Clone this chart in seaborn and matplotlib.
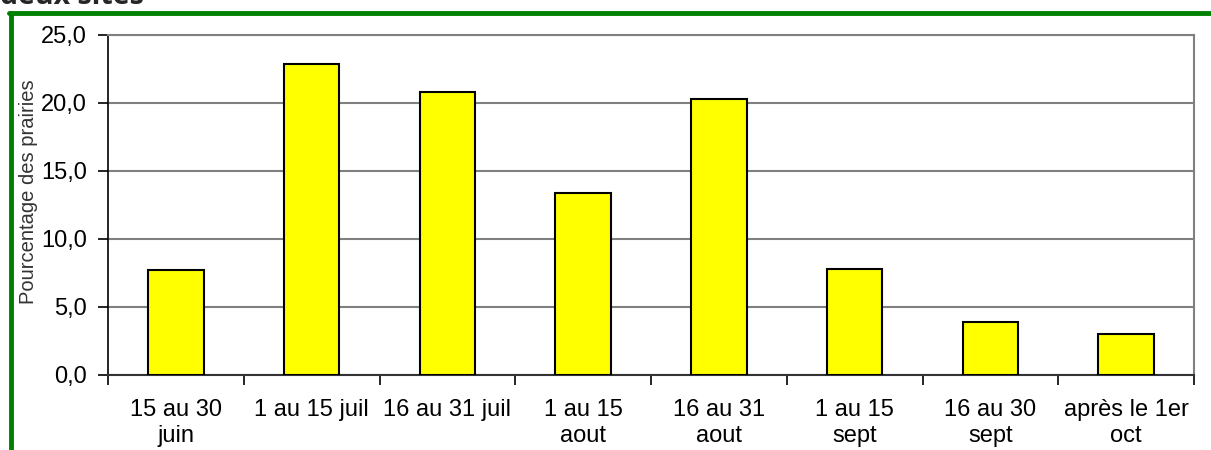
import matplotlib
matplotlib.use("Agg")
import matplotlib.pyplot as plt
from matplotlib.lines import Line2D
import seaborn as sns
import numpy as np

sns.set_style("white")
plt.rcParams['font.family'] = ['Liberation Sans', 'DejaVu Sans']

periods = ["15 au 30\njuin", "1 au 15 juil", "16 au 31 juil", "1 au 15\naout",
           "16 au 31\naout", "1 au 15\nsept", "16 au 30\nsept", "après le 1er\noct"]
pct = [7.7, 22.9, 20.8, 13.4, 20.3, 7.8, 3.9, 3.0]
yticks = [0, 5, 10, 15, 20, 25]

fig = plt.figure(figsize=(12.11, 4.5), dpi=100)
ax = fig.add_axes([108 / 1211, 75 / 450, (1194 - 108) / 1211, 340 / 450])

sns.barplot(x=periods, y=pct, color="#FFFF00", saturation=1, width=0.41,
            edgecolor="black", linewidth=1.5, ax=ax, zorder=3)

ax.set_xlim(-0.5, len(periods) - 0.5)
ax.set_ylim(0, 25)
ax.set_yticks(yticks)
ax.set_yticklabels([f"{v:.1f}".replace(".", ",") for v in yticks], fontsize=17)
ax.yaxis.grid(True, color="#808080", linewidth=1.5, zorder=0)
ax.set_axisbelow(True)

# category ticks sit on the boundaries, labels in the middle
ax.set_xticks(np.arange(len(periods)))
ax.set_xticklabels(periods, fontsize=17, linespacing=1.25)
ax.set_xticks(np.arange(len(periods) + 1) - 0.5, minor=True)
ax.tick_params(axis="x", which="major", length=0, pad=17, labelcolor="black")
ax.tick_params(axis="x", which="minor", length=7, width=1.2, color="black", bottom=True)
ax.tick_params(axis="y", length=7, width=1.2, color="black", left=True, pad=8, labelcolor="black")

ax.set_xlabel("")
ax.set_ylabel("Pourcentage des prairies", fontsize=14.5, color="#333333")
ax.yaxis.set_label_coords(-0.0645, 0.54)

for side in ["top", "right"]:
    ax.spines[side].set_color("#808080")
    ax.spines[side].set_linewidth(1.5)
ax.spines["left"].set_color("black")
ax.spines["left"].set_linewidth(1.2)
ax.spines["bottom"].set_color("#333333")
ax.spines["bottom"].set_linewidth(1.5)

# green frame and cut-off title
fig.add_artist(Line2D([9 / 1211, 1], [1 - 13 / 450, 1 - 13 / 450], color="#008000", linewidth=3.5))
fig.add_artist(Line2D([11 / 1211, 11 / 1211], [0, 1 - 13 / 450], color="#008000", linewidth=3.5))
fig.text(0.0, 1 - 4 / 450, "deux sites", fontsize=20.5, fontweight="bold", ha="left", va="baseline",
         family=["Open Sans", "DejaVu Sans"])

fig.savefig("out.png", dpi=100, facecolor="white")
